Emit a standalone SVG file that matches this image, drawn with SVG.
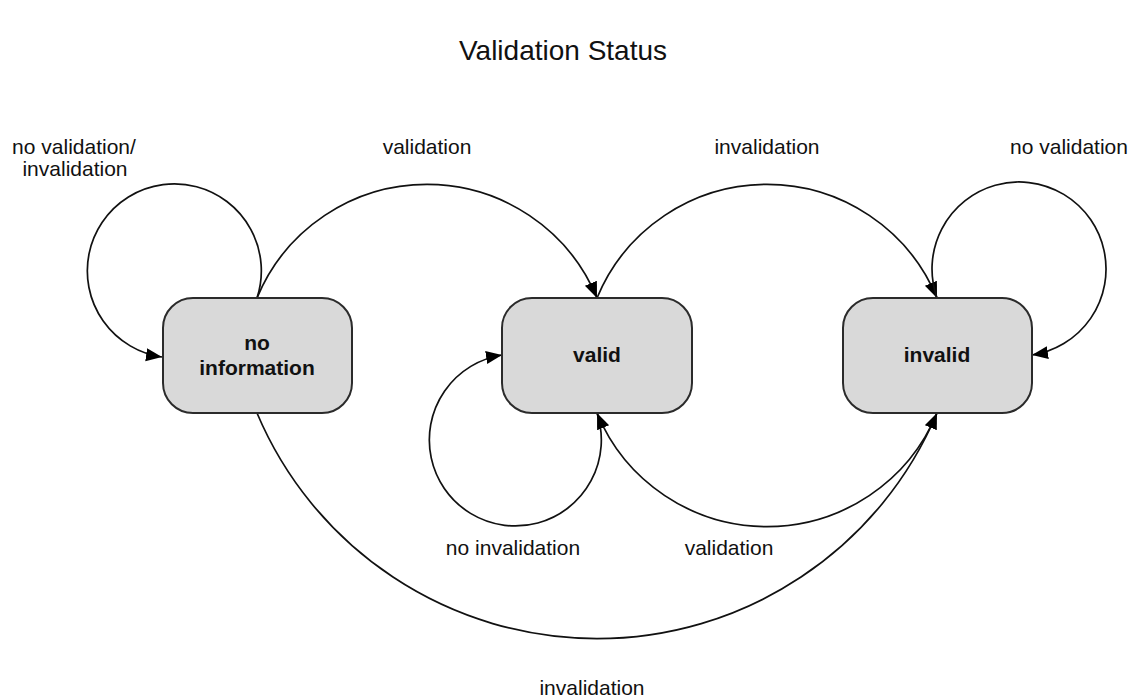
<svg xmlns="http://www.w3.org/2000/svg" width="1133" height="698" viewBox="0 0 1133 698">
  <style>
    .state rect { fill: #d9d9d9; stroke: #2b2b2b; stroke-width: 2; }
    .state text { font-family: "Liberation Sans", Arial, sans-serif; font-size: 21px; font-weight: bold; fill: #111; text-anchor: middle; }
    .edge { fill: none; stroke: #111; stroke-width: 1.7; marker-end: url(#arrow); }
    .label { font-family: "Liberation Sans", Arial, sans-serif; font-size: 21px; fill: #111; text-anchor: middle; }
    .title { font-family: "Liberation Sans", Arial, sans-serif; font-size: 28px; fill: #111; text-anchor: middle; }
  </style>
  <defs>
    <marker id="arrow" markerUnits="userSpaceOnUse" markerWidth="18" markerHeight="16" refX="16" refY="6.5" orient="auto">
      <path d="M0,0 L16,6.5 L0,13 Z" fill="#000"/>
    </marker>
  </defs>
  <rect width="1133" height="698" fill="#fff"/>

  <text class="title" x="563" y="60">Validation Status</text>

  <g id="connectors">
    <!-- self loop on "no information" -->
    <path class="edge" d="M257 298 A87 87 0 1 0 162 357"/>
    <!-- no information -> valid -->
    <path class="edge" d="M257 298 A184 184 0 0 1 597 298"/>
    <!-- valid -> invalid -->
    <path class="edge" d="M597 298 A184 184 0 0 1 937 298"/>
    <!-- self loop on "invalid" -->
    <path class="edge" d="M937 298 A87 87 0 1 1 1032 355"/>
    <!-- self loop on "valid" -->
    <path class="edge" d="M597 413 A86 86 0 1 1 502 355"/>
    <!-- invalid -> valid -->
    <path class="edge" d="M937 413 A184 184 0 0 1 597 413"/>
    <!-- no information -> invalid -->
    <path class="edge" d="M257 413 A369 369 0 0 0 937 413"/>

    <text class="label" x="74" y="154">no validation/</text>
    <text class="label" x="75" y="176">invalidation</text>
    <text class="label" x="427" y="154">validation</text>
    <text class="label" x="767" y="154">invalidation</text>
    <text class="label" x="1069" y="154">no validation</text>
    <text class="label" x="513" y="555">no invalidation</text>
    <text class="label" x="729" y="555">validation</text>
    <text class="label" x="592" y="695">invalidation</text>
  </g>

  <g id="node-no-information" class="state">
    <rect x="163" y="298" width="189" height="115" rx="30" ry="30"/>
    <text x="257" y="350">no</text>
    <text x="257" y="375">information</text>
  </g>
  <g id="node-valid" class="state">
    <rect x="502" y="298" width="190" height="115" rx="30" ry="30"/>
    <text x="597" y="362">valid</text>
  </g>
  <g id="node-invalid" class="state">
    <rect x="843" y="298" width="189" height="115" rx="30" ry="30"/>
    <text x="937" y="362">invalid</text>
  </g>
</svg>
